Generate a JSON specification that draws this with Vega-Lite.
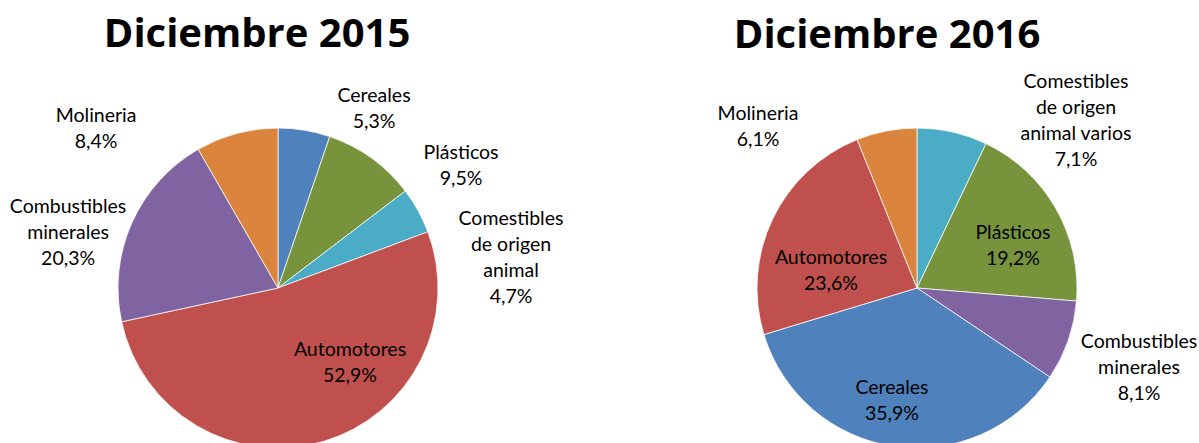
{
  "$schema": "https://vega.github.io/schema/vega-lite/v6.json",
  "padding": {"left": 0, "top": 14, "right": 0, "bottom": 0},
  "config": {"view": {"stroke": null}, "font": "Lato", "text": {"font": "Lato", "fontSize": 19.5, "lineHeight": 26, "lineBreak": "\n", "color": "#000000", "baseline": "middle"}},
  "datasets": {
    "d2015": [
      {"orden": 1, "rubro": "Cereales", "valor": 5.3, "etiqueta": "Cereales\n5,3%"},
      {"orden": 2, "rubro": "Plásticos", "valor": 9.5, "etiqueta": "Plásticos\n9,5%"},
      {"orden": 3, "rubro": "Comestibles de origen animal", "valor": 4.7, "etiqueta": "Comestibles\nde origen\nanimal\n4,7%"},
      {"orden": 4, "rubro": "Automotores", "valor": 52.9, "etiqueta": "Automotores\n52,9%"},
      {"orden": 5, "rubro": "Combustibles minerales", "valor": 20.3, "etiqueta": "Combustibles\nminerales\n20,3%"},
      {"orden": 6, "rubro": "Molineria", "valor": 8.4, "etiqueta": "Molineria\n8,4%"}
    ],
    "d2016": [
      {"orden": 1, "rubro": "Comestibles de origen animal varios", "valor": 7.1, "etiqueta": "Comestibles\nde origen\nanimal varios\n7,1%"},
      {"orden": 2, "rubro": "Plásticos", "valor": 19.2, "etiqueta": "Plásticos\n19,2%"},
      {"orden": 3, "rubro": "Combustibles minerales", "valor": 8.1, "etiqueta": "Combustibles\nminerales\n8,1%"},
      {"orden": 4, "rubro": "Cereales", "valor": 35.9, "etiqueta": "Cereales\n35,9%"},
      {"orden": 5, "rubro": "Automotores", "valor": 23.6, "etiqueta": "Automotores\n23,6%"},
      {"orden": 6, "rubro": "Molineria", "valor": 6.1, "etiqueta": "Molineria\n6,1%"}
    ]
  },
  "spacing": 83,
  "bounds": "flush",
  "resolve": {"scale": {"theta": "independent", "color": "independent"}},
  "hconcat": [
    {
      "width": 556,
      "height": 320,
      "data": {"name": "d2015"},
      "transform": [{"stack": "valor", "groupby": [], "sort": [{"field": "orden", "order": "ascending"}], "as": ["ini", "fin"]}],
      "title": {"text": "Diciembre  2015", "font": "Open Sans", "fontSize": 40, "fontWeight": "bold", "color": "#000000", "dx": -21, "offset": 31, "frame": "group"},
      "encoding": {
        "theta": {"field": "ini", "type": "quantitative", "stack": null}
      },
      "layer": [
        {
          "mark": {"type": "arc", "radius": 160, "stroke": "#ffffff", "strokeWidth": 0.75},
          "encoding": {
            "theta": {"field": "fin", "type": "quantitative", "stack": null},
            "theta2": {"field": "ini"},
            "color": {"field": "rubro", "type": "nominal", "legend": null,
              "scale": {"domain": ["Cereales", "Plásticos", "Comestibles de origen animal", "Comestibles de origen animal varios", "Automotores", "Combustibles minerales", "Molineria"],
                        "range": ["#4F81BD", "#77933C", "#4BACC6", "#4BACC6", "#C0504D", "#8064A2", "#DB843D"]}}
          }
        },
        {"transform": [{"filter": "datum.rubro === 'Cereales'"}],
         "mark": {"type": "text", "radius": 214.7, "thetaOffset": 0.4637},
         "encoding": {"text": {"field": "etiqueta"}}},
        {"transform": [{"filter": "datum.rubro === 'Plásticos'"}],
         "mark": {"type": "text", "radius": 227.4, "thetaOffset": 0.6061},
         "encoding": {"text": {"field": "etiqueta"}}},
        {"transform": [{"filter": "datum.rubro === 'Comestibles de origen animal'"}],
         "mark": {"type": "text", "radius": 243, "thetaOffset": 0.363},
         "encoding": {"text": {"field": "etiqueta"}}},
        {"transform": [{"filter": "datum.rubro === 'Automotores'"}],
         "mark": {"type": "text", "radius": 95, "thetaOffset": 1.0698},
         "encoding": {"text": {"field": "etiqueta"}}},
        {"transform": [{"filter": "datum.rubro === 'Combustibles minerales'"}],
         "mark": {"type": "text", "radius": 225, "thetaOffset": 0.5812},
         "encoding": {"text": {"field": "etiqueta"}}},
        {"transform": [{"filter": "datum.rubro === 'Molineria'"}],
         "mark": {"type": "text", "radius": 250.4, "thetaOffset": -0.2913},
         "encoding": {"text": {"field": "etiqueta"}}}
      ]
    },
    {
      "width": 556,
      "height": 320,
      "data": {"name": "d2016"},
      "transform": [{"stack": "valor", "groupby": [], "sort": [{"field": "orden", "order": "ascending"}], "as": ["ini", "fin"]}],
      "title": {"text": "Diciembre 2016", "font": "Open Sans", "fontSize": 40, "fontWeight": "bold", "color": "#000000", "dx": -30, "offset": 16, "frame": "group"},
      "encoding": {
        "theta": {"field": "ini", "type": "quantitative", "stack": null}
      },
      "layer": [
        {
          "mark": {"type": "arc", "radius": 160, "stroke": "#ffffff", "strokeWidth": 0.75},
          "encoding": {
            "theta": {"field": "fin", "type": "quantitative", "stack": null},
            "theta2": {"field": "ini"},
            "color": {"field": "rubro", "type": "nominal", "legend": null,
              "scale": {"domain": ["Cereales", "Plásticos", "Comestibles de origen animal", "Comestibles de origen animal varios", "Automotores", "Combustibles minerales", "Molineria"],
                        "range": ["#4F81BD", "#77933C", "#4BACC6", "#4BACC6", "#C0504D", "#8064A2", "#DB843D"]}}
          }
        },
        {"transform": [{"filter": "datum.rubro === 'Comestibles de origen animal varios'"}],
         "mark": {"type": "text", "radius": 260.2, "thetaOffset": 0.6573},
         "encoding": {"text": {"field": "etiqueta"}}},
        {"transform": [{"filter": "datum.rubro === 'Plásticos'"}],
         "mark": {"type": "text", "radius": 110.6, "thetaOffset": 0.6044},
         "encoding": {"text": {"field": "etiqueta"}}},
        {"transform": [{"filter": "datum.rubro === 'Combustibles minerales'"}],
         "mark": {"type": "text", "radius": 228.5, "thetaOffset": 0.1569},
         "encoding": {"text": {"field": "etiqueta"}}},
        {"transform": [{"filter": "datum.rubro === 'Cereales'"}],
         "mark": {"type": "text", "radius": 103.1, "thetaOffset": 1.2252},
         "encoding": {"text": {"field": "etiqueta"}}},
        {"transform": [{"filter": "datum.rubro === 'Automotores'"}],
         "mark": {"type": "text", "radius": 91.1, "thetaOffset": 0.6309},
         "encoding": {"text": {"field": "etiqueta"}}},
        {"transform": [{"filter": "datum.rubro === 'Molineria'"}],
         "mark": {"type": "text", "radius": 235.7, "thetaOffset": -0.3571},
         "encoding": {"text": {"field": "etiqueta"}}}
      ]
    }
  ]
}
